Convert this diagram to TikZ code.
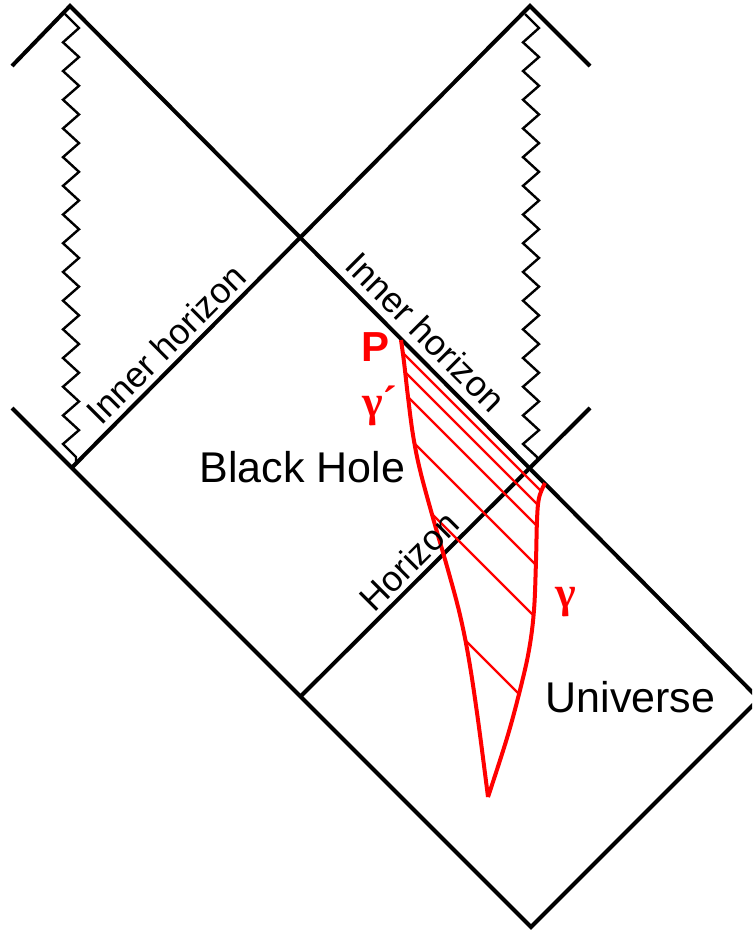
\documentclass[tikz,border=0pt]{standalone}
\usepackage{fontspec}
\setmainfont{Liberation Sans}
\newfontfamily\gamfont{Liberation Serif}
\usetikzlibrary{intersections}
\begin{document}
\begin{tikzpicture}[x=0.5pt,y=-0.5pt,
  bl/.style={line width=2pt, line join=miter},
  zz/.style={line width=1.2pt, line join=miter},
  gam/.style={red, line width=2pt},
  hatch/.style={red, line width=1.15pt},
  lab/.style={inner sep=0pt, font=\fontsize{17.8}{20}\selectfont},
  big/.style={inner sep=0pt, font=\fontsize{21.5}{24}\selectfont},
  redlab/.style={inner sep=0pt, text=red, font=\bfseries\fontsize{21}{24}\selectfont},
  gamlab/.style={inner sep=0pt, text=red, font=\gamfont\bfseries\fontsize{22}{24}\selectfont}]
\clip (0,0) rectangle (752,930);
\useasboundingbox (0,0) rectangle (752,930);
% corner points
\coordinate (La) at (12,66);
\coordinate (Ltop) at (70,6);
\coordinate (Rv) at (759,699);
\coordinate (Bv) at (531,927);
\coordinate (Lb) at (12,408);
\coordinate (Ra) at (590,66);
\coordinate (Rtop) at (530,6);
\coordinate (Lv) at (72,467.5);
\coordinate (Dv) at (300,697);
\coordinate (Hend) at (590,408);
% black lines
\draw[bl] (La) -- (Ltop) -- (Rv) -- (Bv) -- (Lb);
\draw[bl] (Ra) -- (Rtop) -- (Lv);
\draw[bl] (Dv) -- (Hend);
% zigzag singularities
\draw[zz] (65,14) -- (79,28)
  foreach \k in {0,...,13} { -- (63,{42.35+28.7*\k}) -- (79,{57.05+28.7*\k}) }
  -- (63,444) -- (76,457) -- (76,463);
\begin{scope}[shift={(460,0)}]
\draw[zz] (65,14) -- (79,28)
  foreach \k in {0,...,13} { -- (63,{42.35+28.7*\k}) -- (79,{57.05+28.7*\k}) }
  -- (63,444) -- (77,457) -- (77,460);
\end{scope}
% red curves
\draw[gam, name path=gl] plot[smooth, tension=0.6] coordinates
  {(401,340) (404,362) (408,397) (413,435) (420,470) (433,518) (448,570) (460,615) (469,660) (478,720) (488,797)};
\draw[gam, name path=gr] plot[smooth, tension=0.6] coordinates
  {(545,483) (539,498) (537,520) (536,560) (534,610) (529,650) (520,690) (507,738) (488,797)};
% hatch lines
\foreach \c in {50,33,11,-29,-82,-175} {
  \path[name path=hl] ({\c+300},300) -- ({\c+800},800);
  \path[name intersections={of=gl and hl, by=HL}];
  \path[name intersections={of=gr and hl, by=HR}];
  \draw[hatch] (HL) -- (HR);
}
% labels
\node[big] (bh) at (302.5,467.5) {Black Hole};
\node[big] (uni) at (630.5,697.5) {Universe};
\node[lab, rotate=45] (ihl) at (166,344) {Inner horizon};
\node[lab, rotate=-45] (ihr) at (426,332) {Inner horizon};
\node[lab, rotate=45] (hor) at (409,561) {Horizon};
\node[redlab] (P) at (375.5,347) {P};
\node[gamlab] (gp) at (380,406) {γ´};
\node[gamlab] (g) at (566,602) {γ};
\end{tikzpicture}
\end{document}
